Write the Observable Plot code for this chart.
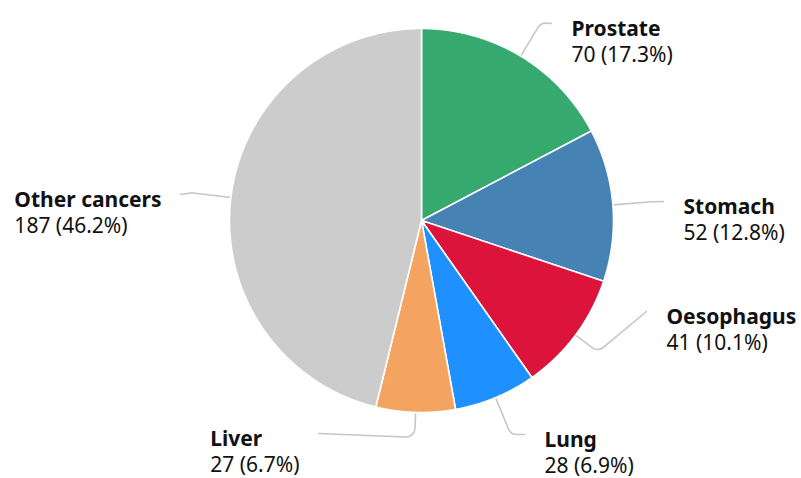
<!DOCTYPE html>
<html>
<head>
<meta charset="utf-8">
<script src="https://cdn.jsdelivr.net/npm/d3@7"></script>
<script src="https://cdn.jsdelivr.net/npm/@observablehq/plot@0.6"></script>
<style>
  html, body { margin: 0; padding: 0; background: #fff; }
  #chart svg { display: block; font-family: "Noto Sans", sans-serif; }
</style>
</head>
<body>
<div id="chart"></div>
<script>
// ---- Data ----
const categories = ["Prostate", "Stomach", "Oesophagus", "Lung", "Liver", "Other cancers"];
const counts = [70, 52, 41, 28, 27, 187];
const colors = ["#36a96e", "steelblue", "crimson", "dodgerblue", "sandybrown", "#cccccc"];

// ---- Layout (pixel offsets from pie centre) ----
const W = 801, H = 478;
const CX = 421, CY = 220, R = 192;
const elbowRadius = [231, 231, 220, 232, 217, 231];
const labelEnds = [[130, -197], [242, -19], [225, 91], [103, 214], [-103, 213], [-241, -26]];
const FONT_SIZE = 21, LINE_GAP = 26.5, BASE_OFF = 12, TEXT_GAP = 20;

const total = d3.sum(counts);
const arcs = d3.pie().sort(null).value(d => d)(counts);

// slice polygons
const slicePts = [];
arcs.forEach((a, i) => {
  const name = categories[i];
  slicePts.push({name, x: 0, y: 0});
  const n = Math.max(2, Math.ceil((a.endAngle - a.startAngle) / 0.005));
  for (let k = 0; k <= n; k++) {
    const t = a.startAngle + (a.endAngle - a.startAngle) * k / n;
    slicePts.push({name, x: R * Math.sin(t), y: -R * Math.cos(t)});
  }
  slicePts.push({name, x: 0, y: 0});
});

// connectors and labels
const connPts = [];
const labels = [];
const ctx = document.createElement("canvas").getContext("2d");
arcs.forEach((a, i) => {
  const name = categories[i];
  const m = (a.startAngle + a.endAngle) / 2;
  const [ex, ey] = labelEnds[i];
  connPts.push({name, x: R * Math.sin(m), y: -R * Math.cos(m)});
  connPts.push({name, x: elbowRadius[i] * Math.sin(m), y: -elbowRadius[i] * Math.cos(m)});
  connPts.push({name, x: ex, y: ey});
  const value = `${counts[i]} (${(counts[i] / total * 100).toFixed(1)}%)`;
  ctx.font = `bold ${FONT_SIZE}px "Noto Sans"`;
  const w1 = ctx.measureText(name).width;
  ctx.font = `${FONT_SIZE}px "Noto Sans"`;
  const w2 = ctx.measureText(value).width;
  const right = ex > 0;
  const tx = right ? ex + TEXT_GAP : ex - TEXT_GAP + 1 - Math.max(w1, w2);
  labels.push({name, value, tx, y1: ey + BASE_OFF, y2: ey + BASE_OFF + LINE_GAP});
});

function roundedCurve(context) {
  let pts = [];
  return {
    areaStart() {}, areaEnd() {},
    lineStart() { pts = []; },
    point(x, y) { pts.push([+x, +y]); },
    lineEnd() {
      if (!pts.length) return;
      context.moveTo(pts[0][0], pts[0][1]);
      for (let i = 1; i < pts.length - 1; i++) {
        context.arcTo(pts[i][0], pts[i][1], pts[i + 1][0], pts[i + 1][1], 9);
      }
      const last = pts[pts.length - 1];
      context.lineTo(last[0], last[1]);
    }
  };
}

const chart = Plot.plot({
  width: W,
  height: H,
  margin: 0,
  x: {domain: [-CX, W - CX], range: [0, W], axis: null},
  y: {domain: [-CY, H - CY], range: [0, H], axis: null},
  color: {domain: categories, range: colors},
  style: {fontFamily: "Noto Sans", background: "#fff"},
  marks: [
    Plot.line(connPts, {x: "x", y: "y", z: "name", stroke: "#c6c6c6", strokeWidth: 1.6, curve: roundedCurve}),
    Plot.line(slicePts, {x: "x", y: "y", z: "name", fill: "name", stroke: "white", strokeWidth: 1.6, strokeLinejoin: "round"}),
    Plot.text(labels, {x: "tx", y: "y1", text: "name", textAnchor: "start", lineAnchor: "bottom",
      fontWeight: "bold", fontSize: FONT_SIZE, fill: "#111"}),
    Plot.text(labels, {x: "tx", y: "y2", text: "value", textAnchor: "start", lineAnchor: "bottom",
      fontSize: FONT_SIZE, fill: "#111"})
  ]
});
document.getElementById("chart").appendChild(chart);
</script>
</body>
</html>
